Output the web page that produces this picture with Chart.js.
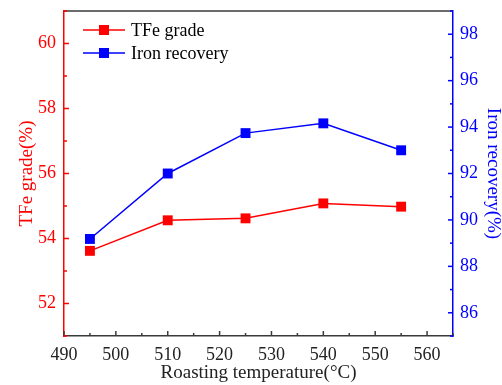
<!DOCTYPE html>
<html>
<head>
<meta charset="utf-8">
<script src="https://cdn.jsdelivr.net/npm/chart.js@4"></script>
<style>
  html, body { margin: 0; padding: 0; background: #fff; }
  #wrap { width: 502px; height: 385px; }
</style>
</head>
<body>
<div id="wrap"><canvas id="chart" width="502" height="385"></canvas></div>
<script>
const temperatures = [495, 510, 525, 540, 555];
const tfeGrade = [53.62, 54.56, 54.62, 55.08, 54.98];
const ironRecovery = [89.18, 92.0, 93.74, 94.16, 93.0];

const RED = '#ff0000';
const BLUE = '#0000ff';
const DARK = '#3a3a3a';
const FONT = 'Liberation Serif, Times New Roman, serif';

const ctx = document.getElementById('chart').getContext('2d');

function fixBox(w, h) {
  return s => {
    if (w) s.width = w;
    if (h) s.height = h;
    s.paddingTop = 0;
    s.paddingBottom = 0;
    s.paddingLeft = 0;
    s.paddingRight = 0;
  };
}

// inward major/minor tick marks + top frame line
const frameTicks = {
  id: 'frameTicks',
  afterDraw(chart) {
    const c = chart.ctx;
    const a = chart.chartArea;
    c.save();
    c.lineWidth = 1.5;
    c.strokeStyle = DARK;
    c.beginPath();
    c.moveTo(a.left, a.top);
    c.lineTo(a.right, a.top);
    c.stroke();

    const sx = chart.scales.x;
    sx.ticks.forEach(t => {
      const px = sx.getPixelForValue(t.value);
      const len = t.value % 10 === 0 ? 5 : 3;
      c.beginPath();
      c.moveTo(px, a.bottom);
      c.lineTo(px, a.bottom - len);
      c.stroke();
    });

    const sy = chart.scales.y;
    c.strokeStyle = RED;
    sy.ticks.forEach(t => {
      const py = sy.getPixelForValue(t.value);
      const len = t.value % 2 === 0 ? 5 : 3;
      c.beginPath();
      c.moveTo(a.left, py);
      c.lineTo(a.left + len, py);
      c.stroke();
    });

    const sy1 = chart.scales.y1;
    c.strokeStyle = BLUE;
    sy1.ticks.forEach(t => {
      const py = sy1.getPixelForValue(t.value);
      const len = t.value % 2 === 0 ? 5 : 3;
      c.beginPath();
      c.moveTo(a.right, py);
      c.lineTo(a.right - len, py);
      c.stroke();
    });
    c.restore();
  }
};

// legend inside plot, line-square-line symbol
const insideLegend = {
  id: 'insideLegend',
  afterDraw(chart) {
    const c = chart.ctx;
    const a = chart.chartArea;
    c.save();
    c.font = '18px ' + FONT;
    c.textBaseline = 'middle';
    chart.data.datasets.forEach((ds, i) => {
      const y = a.top + 19 + i * 23;
      const x0 = a.left + 19;
      c.strokeStyle = ds.borderColor;
      c.lineWidth = 1.5;
      c.beginPath();
      c.moveTo(x0, y);
      c.lineTo(x0 + 42, y);
      c.stroke();
      c.fillStyle = ds.backgroundColor;
      c.fillRect(x0 + 21 - 5, y - 5, 10, 10);
      c.fillStyle = '#000';
      c.fillText(ds.label, x0 + 48, y + 1);
    });
    c.restore();
  }
};

const chart = new Chart(ctx, {
  type: 'line',
  data: {
    datasets: [{
      label: 'TFe grade',
      data: temperatures.map((t, i) => ({x: t, y: tfeGrade[i]})),
      borderColor: RED,
      backgroundColor: RED,
      borderWidth: 1.5,
      pointStyle: 'rect',
      pointRadius: 7,
      pointBorderWidth: 0,
      yAxisID: 'y'
    }, {
      label: 'Iron recovery',
      data: temperatures.map((t, i) => ({x: t, y: ironRecovery[i]})),
      borderColor: BLUE,
      backgroundColor: BLUE,
      borderWidth: 1.5,
      pointStyle: 'rect',
      pointRadius: 7,
      pointBorderWidth: 0,
      yAxisID: 'y1'
    }]
  },
  options: {
    responsive: false,
    animation: false,
    layout: { padding: { top: 11, left: 0, right: 0, bottom: 0 } },
    plugins: {
      legend: { display: false },
      tooltip: { enabled: false }
    },
    scales: {
      x: {
        type: 'linear',
        min: 490,
        max: 565,
        afterFit: fixBox(0, 49),
        grid: { display: false, drawTicks: false },
        border: { display: true, color: DARK, width: 1.5 },
        ticks: {
          stepSize: 5,
          autoSkip: false,
          maxRotation: 0,
          padding: 8,
          color: '#222',
          font: { family: FONT, size: 18 },
          callback: v => v % 10 === 0 ? String(v) : ''
        },
        title: {
          display: true,
          text: 'Roasting temperature(°C)',
          color: '#222',
          font: { family: FONT, size: 19, lineHeight: 1 },
          padding: { top: 0, bottom: 2 }
        }
      },
      y: {
        position: 'left',
        min: 51,
        max: 61,
        afterFit: fixBox(64, 0),
        grid: { display: false, drawTicks: false },
        border: { display: true, color: RED, width: 1.5 },
        ticks: {
          stepSize: 1,
          autoSkip: false,
          padding: 8,
          color: RED,
          font: { family: FONT, size: 18 },
          callback: v => v % 2 === 0 ? String(v) : ''
        },
        title: {
          display: true,
          text: 'TFe grade(%)',
          color: RED,
          font: { family: FONT, size: 19, lineHeight: 1 },
          padding: { top: 18, bottom: 0 }
        }
      },
      y1: {
        position: 'right',
        min: 85,
        max: 99,
        afterFit: fixBox(49, 0),
        grid: { display: false, drawTicks: false },
        border: { display: true, color: BLUE, width: 1.5 },
        ticks: {
          stepSize: 1,
          autoSkip: false,
          padding: 7,
          color: BLUE,
          font: { family: FONT, size: 18 },
          callback: v => v % 2 === 0 ? String(v) : ''
        },
        title: {
          display: true,
          text: 'Iron recovery(%)',
          color: BLUE,
          font: { family: FONT, size: 19, lineHeight: 1 },
          padding: { top: 0, bottom: 0 }
        }
      }
    }
  },
  plugins: [frameTicks, insideLegend]
});
</script>
</body>
</html>
